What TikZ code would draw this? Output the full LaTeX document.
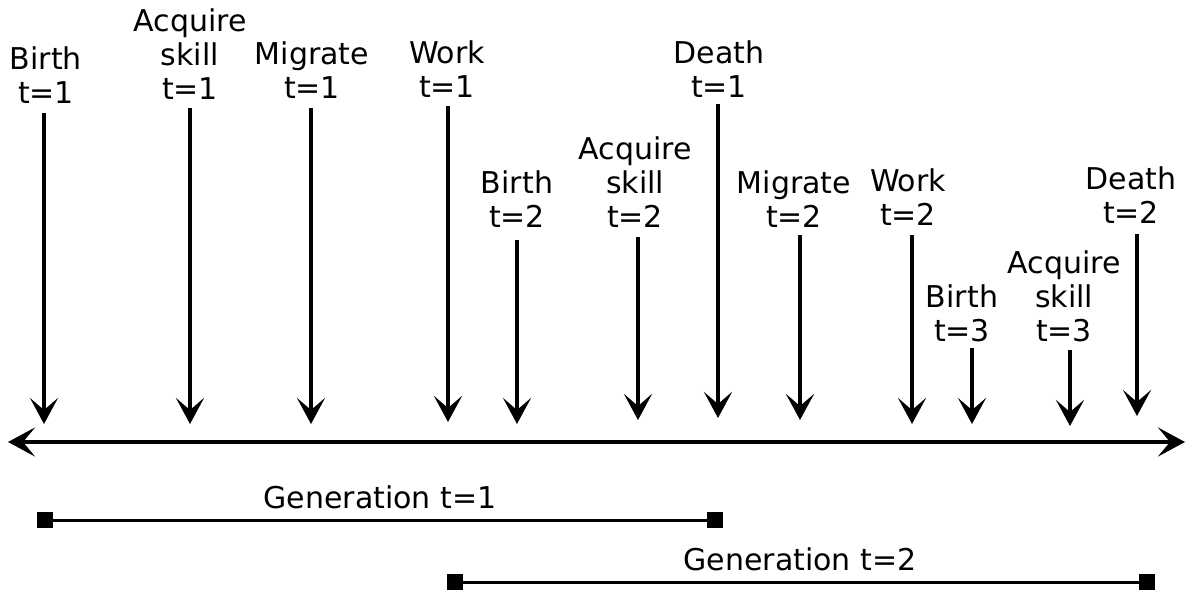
\documentclass[tikz,border=0pt]{standalone}
\usepackage{fontspec}
\setmainfont{DejaVu Sans}
\usetikzlibrary{arrows.meta}
\begin{document}
\begin{tikzpicture}[x=1pt,y=-1pt,
  lbl/.style={align=center,anchor=south,inner sep=0pt,font=\fontsize{30}{34}\selectfont},
  glbl/.style={anchor=base,inner sep=0pt,font=\fontsize{30}{34}\selectfont},
  evarrow/.style={line width=4pt,-{Stealth[length=26pt,width=28pt,inset=12pt]}},
  axisline/.style={line width=4pt,{Stealth[length=27pt,width=29pt,inset=12pt]}-{Stealth[length=27pt,width=29pt,inset=12pt]}},
  genline/.style={line width=3pt},
  endsq/.style={fill=black,minimum size=16pt,inner sep=0pt}]
\useasboundingbox (0,0) rectangle (1187,595);
% labels
\node[lbl] (b1) at (46,104) {Birth\\t=1};
\node[lbl] (a1) at (190,100) {Acquire\\skill\\t=1};
\node[lbl] (m1) at (312,99) {Migrate\\t=1};
\node[lbl] (w1) at (447,98) {Work\\t=1};
\node[lbl] (d1) at (719,98) {Death\\t=1};
\node[lbl] (b2) at (517,228) {Birth\\t=2};
\node[lbl] (a2) at (635,228) {Acquire\\skill\\t=2};
\node[lbl] (m2) at (794,228) {Migrate\\t=2};
\node[lbl] (w2) at (908,226) {Work\\t=2};
\node[lbl] (d2) at (1131,224) {Death\\t=2};
\node[lbl] (b3) at (962,342) {Birth\\t=3};
\node[lbl] (a3) at (1064,342) {Acquire\\skill\\t=3};
% arrow coordinates
\coordinate (b1t) at (44,113);   \coordinate (b1e) at (44,424);
\coordinate (a1t) at (190,108);  \coordinate (a1e) at (190,424);
\coordinate (m1t) at (311,108);  \coordinate (m1e) at (311,424);
\coordinate (w1t) at (448,106);  \coordinate (w1e) at (448,422);
\coordinate (b2t) at (517,240);  \coordinate (b2e) at (517,424);
\coordinate (a2t) at (638,237);  \coordinate (a2e) at (638,420);
\coordinate (d1t) at (718,104);  \coordinate (d1e) at (718,418);
\coordinate (m2t) at (800,235);  \coordinate (m2e) at (800,420);
\coordinate (w2t) at (912,235);  \coordinate (w2e) at (912,424);
\coordinate (b3t) at (972,348);  \coordinate (b3e) at (972,424);
\coordinate (a3t) at (1070,350); \coordinate (a3e) at (1070,426);
\coordinate (d2t) at (1137,234); \coordinate (d2e) at (1137,416);
\foreach \n in {b1,a1,m1,w1,b2,a2,d1,m2,w2,b3,a3,d2}
  \draw[evarrow] (\n t) -- (\n e);
% axis
\coordinate (axL) at (8,442);
\coordinate (axR) at (1185,442);
\draw[axisline] (axL) -- (axR);
% generations
\node[endsq] (g1a) at (45,520) {};
\node[endsq] (g1b) at (715,520) {};
\draw[genline] (g1a) -- (g1b);
\node[glbl] (g1l) at (380,508) {Generation t=1};
\node[endsq] (g2a) at (455,582) {};
\node[endsq] (g2b) at (1147,582) {};
\draw[genline] (g2a) -- (g2b);
\node[glbl] (g2l) at (800,570) {Generation t=2};
\end{tikzpicture}
\end{document}
